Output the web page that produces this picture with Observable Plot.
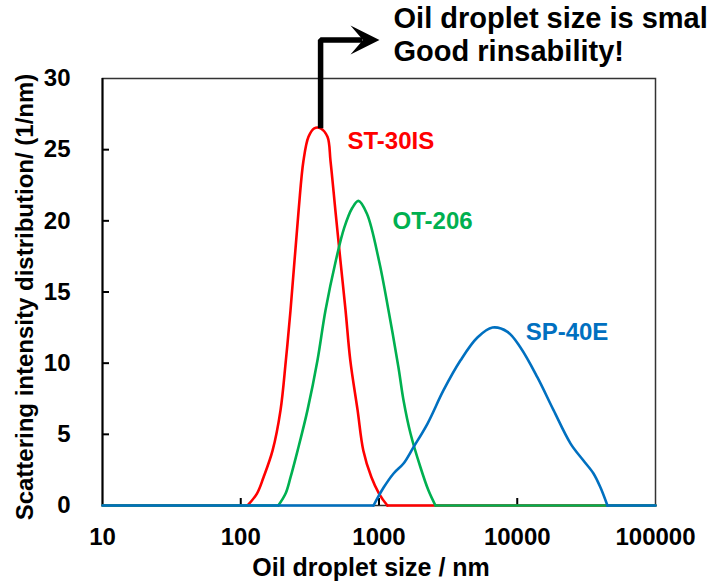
<!DOCTYPE html>
<html><head><meta charset="utf-8">
<script src="https://cdn.jsdelivr.net/npm/d3@7"></script>
<script src="https://cdn.jsdelivr.net/npm/@observablehq/plot@0.6"></script>
<style>
html,body{margin:0;padding:0;background:#fff;overflow:hidden;}
#chart{width:708px;height:586px;}
</style></head><body><div id="chart"></div>
<script>
// ---- data ----
const seriesNames = ["ST-30IS", "OT-206", "SP-40E"];
const seriesColors = ["#ff0000", "#00b050", "#0070c0"];

const sizeST = [10, 112, 131, 146, 170, 194, 212, 229, 262, 284, 309, 340, 378, 424, 446, 484, 526, 573, 620, 700, 770, 880, 1000, 1150, 100000];
const valST  = [0, 0, 0.84, 1.97, 3.87, 6.7, 10.2, 13.7, 20.7, 24.2, 25.9, 26.5, 26.5, 25.9, 24.2, 20.7, 17.2, 13.7, 10.2, 6.7, 3.87, 2.0, 0.84, 0, 0];

const sizeOT = [10, 187, 211, 229, 258, 304, 359, 410, 487, 560, 640, 710, 818, 1000, 1172, 1383, 1504, 1690, 1997, 2281, 2560, 100000];
const valOT  = [0, 0, 0.84, 1.97, 3.87, 6.7, 10.2, 13.7, 17.2, 19.5, 20.9, 21.4, 20.5, 17.2, 13.7, 9.7, 7.4, 5.06, 2.67, 1.05, 0, 0];

const sizeSP = [10, 913, 1080, 1275, 1504, 1777, 2245, 2930, 3890, 5150, 6620, 8500, 10550, 14000, 18300, 24300, 30100, 35600, 40000, 44900, 100000];
const valSP  = [0, 0, 1.26, 2.25, 2.95, 4.1, 5.76, 8.1, 10.2, 11.8, 12.5, 12.2, 11.1, 9.0, 6.7, 4.35, 3.16, 2.25, 1.26, 0, 0];

const xTicks = [10, 100, 1000, 10000, 100000];
const xTickLabels = ["10", "100", "1000", "10000", "100000"];
const yTicks = [0, 5, 10, 15, 20, 25, 30];
const yTickLabels = ["0", "5", "10", "15", "20", "25", "30"];
const xInnerTicks = [100, 1000, 10000];
const yInnerTicks = [5, 10, 15, 20, 25];

const xTitle = "Oil droplet size / nm";
const yTitle = "Scattering intensity distribution/ (1/nm)";
const noteLines = ["Oil droplet size is small", "Good rinsability!"];

// ---- build tables: flat zero runs (linear) and the peak itself (smooth) ----
const sizes = [sizeST, sizeOT, sizeSP];
const vals = [valST, valOT, valSP];
const baseRows = [];
const peakRows = [];
seriesNames.forEach((name, s) => {
  const xs = sizes[s], ys = vals[s];
  const n = xs.length;
  let a = 0; while (a + 1 < n && ys[a + 1] === 0) a++;          // last leading zero
  let b = n - 1; while (b - 1 > 0 && ys[b - 1] === 0) b--;      // first trailing zero
  baseRows.push({series: name, part: "L", size: xs[0], value: ys[0]}, {series: name, part: "L", size: xs[a], value: ys[a]});
  baseRows.push({series: name, part: "R", size: xs[b], value: ys[b]}, {series: name, part: "R", size: xs[n - 1], value: ys[n - 1]});
  for (let i = a; i <= b; i++) peakRows.push({series: name, size: xs[i], value: ys[i]});
});

const labels = [
  {name: seriesNames[0], x: 592, y: 25.6, color: seriesColors[0]},
  {name: seriesNames[1], x: 1253, y: 20.0, color: seriesColors[1]},
  {name: seriesNames[2], x: 11500, y: 12.2, color: seriesColors[2]}
];

const notchedHead = {
  draw(context, l, r) {
    context.moveTo(0, -l);
    context.lineTo(-r, 0);
    context.lineTo(0, -l * 0.43);
    context.lineTo(r, 0);
    context.closePath();
  }
};

const font = "Arial, 'Liberation Sans', sans-serif";

const seriesMarks = seriesNames.flatMap(name => [
  Plot.line(baseRows.filter(d => d.series === name), {x: "size", y: "value", z: "part", stroke: () => name, strokeWidth: 2.6, curve: "linear"}),
  Plot.line(peakRows.filter(d => d.series === name), {x: "size", y: "value", stroke: () => name, strokeWidth: 2.6, curve: "catmull-rom"})
]);

const chart = Plot.plot({
  width: 708,
  height: 586,
  marginLeft: 102,
  marginRight: 53,
  marginTop: 78,
  marginBottom: 81,
  style: {fontFamily: font, fontWeight: "bold", fontSize: "24px", color: "#000", background: "#fff", overflow: "hidden"},
  x: {type: "log", domain: [10, 100000]},
  y: {domain: [0, 30]},
  color: {domain: seriesNames, range: seriesColors},
  marks: [
    Plot.frame({stroke: "#333", strokeWidth: 1.5}),
    Plot.ruleX([10], {stroke: "#000", strokeWidth: 2}),
    Plot.tickX(xInnerTicks, {x: d => d, insetTop: 420, stroke: "#000", strokeWidth: 2}),
    Plot.tickY(yInnerTicks, {y: d => d, insetRight: 546, stroke: "#000", strokeWidth: 2}),
    Plot.axisX(xTicks, {tickSize: 0, tickPadding: 22, tickFormat: d => xTickLabels[xTicks.indexOf(d)], label: null, fontSize: 24, fontWeight: "bold"}),
    Plot.axisY(yTicks, {tickSize: 0, tickPadding: 22, dx: -10, tickFormat: d => yTickLabels[yTicks.indexOf(d)], label: null, fontSize: 24, fontWeight: "bold"}),
    ...seriesMarks,
    Plot.text(labels, {x: "x", y: "y", text: "name", fill: "color", textAnchor: "start", lineAnchor: "middle", fontSize: 24, fontWeight: "bold"}),
    Plot.line([{x: 378, y: 26.5}, {x: 378, y: 32.7}, {x: 759, y: 32.7}], {x: "x", y: "y", stroke: "#000", strokeWidth: 5.5, strokeLinejoin: "miter", strokeLinecap: "butt", curve: "linear"}),
    Plot.vector([{x: 622, y: 32.7}], {x: "x", y: "y", length: 29, rotate: 90, anchor: "start", shape: notchedHead, r: 14.5, fill: "#000", stroke: "none"}),
    Plot.text([{t: noteLines[0], y: 34.2}, {t: noteLines[1], y: 31.9}], {x: () => 1274, y: "y", text: "t", textAnchor: "start", lineAnchor: "middle", fontSize: 29, fontWeight: "bold", fill: "#000"}),
    Plot.text([xTitle], {frameAnchor: "bottom", textAnchor: "middle", dy: 70, dx: -8, fontSize: 25, fontWeight: "bold"}),
    Plot.text([yTitle], {frameAnchor: "left", textAnchor: "middle", rotate: -90, dx: -77, dy: 5, fontSize: 24, fontWeight: "bold"})
  ]
});
document.getElementById("chart").appendChild(chart);
</script></body></html>
